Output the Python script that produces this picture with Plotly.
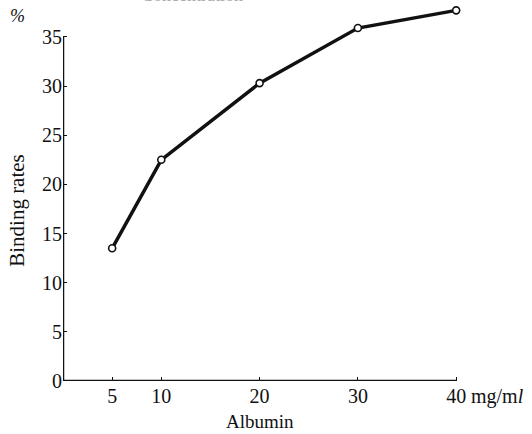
import plotly.graph_objects as go

# Albumin concentration (mg/ml) vs. binding rate (%)
albumin = [5, 10, 20, 30, 40]
binding_rate = [13.5, 22.5, 30.3, 35.9, 37.7]

x_ticks = [5, 10, 20, 30, 40]
y_ticks = [0, 5, 10, 15, 20, 25, 30, 35]

FONT = "Liberation Serif"
INK = "#111111"

fig = go.Figure()
fig.add_trace(go.Scatter(
    x=albumin, y=binding_rate,
    mode="lines+markers",
    line=dict(color=INK, width=3.5),
    marker=dict(symbol="circle", size=7, color="white",
                line=dict(color=INK, width=1.6)),
    cliponaxis=False,
    showlegend=False,
))

# Axis lines stop at the last labelled tick
fig.add_shape(type="line", xref="x", yref="y", x0=0, x1=0, y0=0, y1=35,
              line=dict(color=INK, width=2.5), layer="below")
fig.add_shape(type="line", xref="x", yref="y", x0=0, x1=40, y0=0, y1=0,
              line=dict(color=INK, width=2.5), layer="below")

fig.update_xaxes(
    range=[0, 41], showgrid=False, zeroline=False, showline=False,
    tickvals=x_ticks, ticktext=[str(v) for v in x_ticks],
    ticks="inside", ticklen=4, tickwidth=1.3, tickcolor=INK,
    ticklabelstandoff=1,
    tickfont=dict(family=FONT, size=20, color=INK),
)
fig.update_yaxes(
    range=[0, 38.45], showgrid=False, zeroline=False, showline=False,
    tickvals=y_ticks, ticktext=[str(v) for v in y_ticks],
    ticks="inside", ticklen=4, tickwidth=1.3, tickcolor=INK,
    ticklabelstandoff=0,
    tickfont=dict(family=FONT, size=20, color=INK),
)

annotations = [
    dict(text="<i>%</i>", xref="paper", yref="paper", x=-0.112, y=0.966,
         xanchor="center", yanchor="middle", showarrow=False,
         font=dict(family=FONT, size=18, color=INK)),
    dict(text="Binding rates", xref="paper", yref="paper", x=-0.115, y=0.452,
         xanchor="center", yanchor="middle", textangle=-90, showarrow=False,
         font=dict(family=FONT, size=21, color=INK)),
    dict(text="Albumin", xref="x", yref="paper", x=20, y=-0.106,
         xanchor="center", yanchor="middle", showarrow=False,
         font=dict(family=FONT, size=19, color=INK)),
    dict(text="mg/m<i>l</i>", xref="paper", yref="paper", x=1.007, y=-0.04,
         xanchor="left", yanchor="middle", showarrow=False,
         font=dict(family=FONT, size=20, color=INK)),
    dict(text="Concentration", xref="paper", yref="paper", x=0.32, y=1.0,
         xanchor="center", yanchor="bottom", showarrow=False, yshift=-4,
         font=dict(family=FONT, size=18, color="#aaaaaa")),
]

fig.update_layout(
    width=532, height=434,
    margin=dict(l=63, r=66, t=3, b=53),
    paper_bgcolor="white", plot_bgcolor="white",
    annotations=annotations,
)

fig.write_html("out.html")
